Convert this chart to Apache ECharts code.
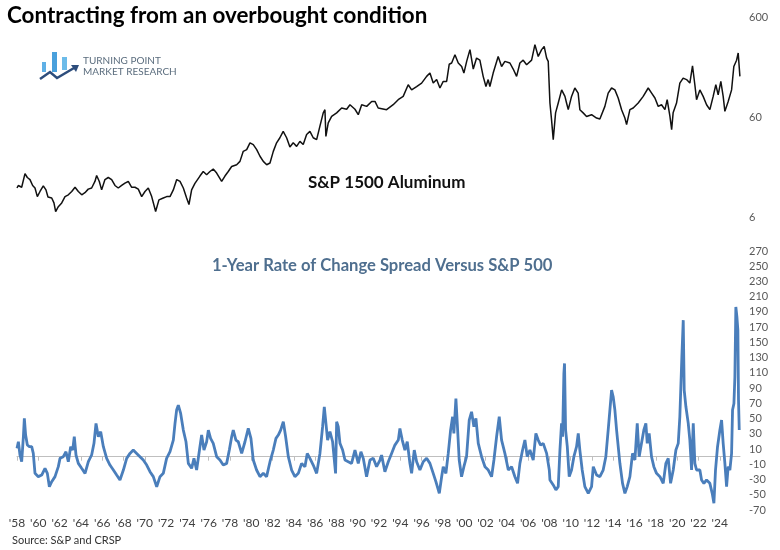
<!DOCTYPE html>
<html>
<head>
<meta charset="utf-8">
<script src="https://cdn.jsdelivr.net/npm/echarts@6/dist/echarts.min.js"></script>
<style>
  html, body { margin: 0; padding: 0; background: #fff; }
  #chart { width: 780px; height: 550px; }
</style>
</head>
<body>
<div id="chart"></div>
<script>
// S&P 1500 Aluminum index (decimal year, index level)
var topYears = [
    1958.00, 1958.12, 1958.44, 1958.75, 1958.97, 1959.22, 1959.47, 1959.69, 1959.91, 1960.16,
    1960.47, 1960.72, 1960.91, 1961.26, 1961.47, 1961.63, 1961.88, 1962.20, 1962.51, 1962.82,
    1963.14, 1963.45, 1963.76, 1964.08, 1964.38, 1964.69, 1965.01, 1965.32, 1965.48, 1965.73,
    1965.95, 1966.26, 1966.57, 1966.89, 1967.20, 1967.51, 1967.83, 1968.14, 1968.45, 1968.77,
    1969.08, 1969.39, 1969.71, 1970.02, 1970.33, 1970.65, 1971.02, 1971.33, 1971.74, 1972.06,
    1972.37, 1972.68, 1973.00, 1973.31, 1973.62, 1973.93, 1974.15, 1974.40, 1974.71,
    1975.18, 1975.49, 1975.81, 1976.12, 1976.43, 1976.75, 1977.22, 1977.53, 1977.84, 1978.16,
    1978.63, 1978.94, 1979.25, 1979.57, 1979.88, 1980.19, 1980.51, 1980.82, 1981.13, 1981.45,
    1981.76, 1982.07, 1982.38, 1982.69, 1983.00, 1983.32, 1983.63, 1983.94, 1984.26, 1984.57,
    1984.88, 1985.20, 1985.51, 1985.82, 1986.14, 1986.45, 1986.76, 1986.92, 1987.01, 1987.23,
    1987.55, 1988.02, 1988.49, 1988.96, 1989.27, 1989.74, 1990.05, 1990.37, 1990.84, 1991.31,
    1991.62, 1991.92,
    1992.08, 1992.71, 1993.33, 1993.80, 1994.27, 1994.74, 1995.06, 1995.53, 1996.00, 1996.47,
    1996.78, 1997.09, 1997.41, 1997.72, 1998.03, 1998.35, 1998.59, 1998.82, 1999.13, 1999.44,
    1999.76, 1999.97, 2000.23, 2000.54, 2000.85, 2001.16, 2001.47, 2001.78, 2002.04, 2002.25,
    2002.41, 2002.72, 2003.19, 2003.51, 2003.82, 2004.29, 2004.60, 2004.92, 2005.23, 2005.54,
    2005.86, 2006.33, 2006.64, 2006.95, 2007.27, 2007.51, 2007.74, 2007.89, 2008.05, 2008.20,
    2008.36, 2008.58, 2008.83, 2009.15, 2009.46,
    2009.61, 2009.77, 2010.08, 2010.39, 2010.70, 2010.86, 2011.17, 2011.49, 2011.96, 2012.43,
    2012.74, 2013.21, 2013.52, 2013.84, 2014.15, 2014.46, 2014.78, 2015.09, 2015.25, 2015.56,
    2015.87, 2016.34, 2016.81, 2017.28, 2017.60, 2017.91, 2018.22, 2018.53, 2018.85, 2019.06,
    2019.32, 2019.48, 2019.62, 2019.94, 2020.25, 2020.56, 2020.88, 2021.19, 2021.44, 2021.66,
    2021.82, 2022.13, 2022.44, 2022.76, 2023.07, 2023.38, 2023.63, 2023.85, 2024.10, 2024.32,
    2024.48, 2024.79, 2025.11, 2025.32, 2025.58, 2025.73, 2025.89];
var topValues = [
    11.7, 12.4, 11.9, 16.3, 14.9, 14.2, 12.4, 11.7, 9.6, 10.8,
    12.3, 11.2, 9.5, 9.3, 8.3, 6.8, 7.6, 8.3, 9.6, 10.0,
    10.8, 11.9, 10.8, 10.0, 10.5, 11.4, 11.7, 13.6, 15.6, 13.6,
    11.2, 14.2, 14.9, 14.2, 12.4, 11.7, 12.4, 13.1, 13.6, 11.9,
    11.9, 11.4, 9.6, 10.8, 11.7, 9.6, 6.8, 8.9, 9.3, 9.6,
    9.6, 11.2, 14.2, 13.6, 11.7, 9.3, 8.0, 11.2, 13.0,
    15.4, 17.1, 15.9, 17.1, 18.1, 16.5, 13.6, 15.4, 17.1, 19.2,
    20.0, 21.6, 27.2, 28.3, 33.1, 31.8, 28.3, 24.3, 21.6, 20.0,
    20.8, 27.2, 33.1, 37.2, 43.1, 37.2, 30.1, 33.1, 30.5, 34.2,
    31.8, 40.1, 43.1, 37.2, 35.6, 48.7, 66, 71, 38.4, 52.3,
    60.8, 66, 73.8, 71.7, 79.6, 71.7, 63.3, 79.6, 76.6, 85.9,
    85.9, 73.8,
    76.6, 71.0, 79.6, 89.4, 96.4, 126, 112, 121, 131, 153,
    165, 131, 142, 117, 136, 136, 202, 208, 252, 208,
    192, 165, 216, 283, 181, 233, 222, 153, 121, 142,
    121, 165, 242, 192, 216, 208, 181, 153, 208, 222,
    200, 222, 317, 242, 283, 305, 233, 216, 82.8, 56.4,
    35.6, 66, 82.8, 112, 96.4,
    82.8, 71, 96.4, 117, 104, 71, 66, 60.8, 63.3, 58.6,
    57.3, 76.6, 104, 117, 112, 92.9, 71, 58.6, 50.3, 71,
    73.8, 82.8, 96.4, 117, 104, 92.9, 76.6, 79.6, 71, 89.4,
    60.8, 44.8, 66, 82.8, 131, 147, 142, 131, 195, 126,
    89.4, 112, 96.4, 79.6, 71, 96.4, 126, 100, 136, 96.4,
    68.3, 85.9, 112, 192, 222, 262, 153];

// 1-year rate of change spread versus S&P 500 (%)
var rocYears = [
    1958.00, 1958.13, 1958.28, 1958.44, 1958.60, 1958.69, 1958.81, 1958.97, 1959.16, 1959.38,
    1959.53, 1959.69, 1960.00, 1960.32, 1960.63, 1960.85, 1961.04, 1961.26, 1961.57, 1961.88,
    1962.04, 1962.35, 1962.60, 1962.82, 1963.04, 1963.23, 1963.38, 1963.54, 1963.76, 1964.07,
    1964.39, 1964.70, 1965.01, 1965.23, 1965.42, 1965.64, 1965.86, 1966.11, 1966.42, 1966.73,
    1967.05, 1967.36, 1967.67, 1967.99, 1968.30, 1968.61, 1968.92, 1969.24, 1969.55, 1969.86,
    1970.18, 1970.49, 1970.80, 1971.12, 1971.43, 1971.74, 1972.05, 1972.37, 1972.68, 1972.84,
    1972.99, 1973.15, 1973.37, 1973.62, 1973.87, 1974.09, 1974.40, 1974.62, 1974.87,
    1975.18, 1975.34, 1975.56, 1975.81, 1975.97, 1976.18, 1976.43, 1976.75, 1977.06, 1977.37,
    1977.69, 1977.94, 1978.16, 1978.31, 1978.56, 1978.78, 1979.10, 1979.41, 1979.72, 1979.97,
    1980.19, 1980.50, 1980.82, 1981.13, 1981.44, 1981.76, 1982.07, 1982.32, 1982.54, 1982.76,
    1983.01, 1983.23, 1983.48, 1983.79, 1984.10, 1984.42, 1984.73, 1985.04, 1985.26, 1985.51,
    1985.82, 1986.14, 1986.45, 1986.70, 1986.86, 1987.01, 1987.17, 1987.39, 1987.64, 1987.92,
    1988.02, 1988.17, 1988.33, 1988.58, 1988.80, 1989.11, 1989.42, 1989.74, 1990.05, 1990.30,
    1990.52, 1990.83, 1991.15,
    1991.46, 1991.77, 1992.09, 1992.24, 1992.55, 1992.87, 1993.18, 1993.49, 1993.81, 1993.96,
    1994.18, 1994.43, 1994.65, 1994.90, 1995.06, 1995.31, 1995.53, 1995.84, 1996.15, 1996.47,
    1996.78, 1997.09, 1997.34, 1997.66, 1997.88, 1998.03, 1998.28, 1998.50, 1998.72, 1998.91,
    1999.03, 1999.22, 1999.35, 1999.53, 1999.75, 1999.97, 2000.22, 2000.47, 2000.69, 2000.91,
    2001.10, 2001.32, 2001.63, 2001.95, 2002.26, 2002.57, 2002.79, 2003.04, 2003.29, 2003.51,
    2003.82, 2004.14, 2004.45, 2004.76, 2005.01, 2005.23, 2005.48, 2005.70, 2005.92, 2006.17,
    2006.48, 2006.73, 2006.95, 2007.17, 2007.42, 2007.74, 2007.99,
    2008.05, 2008.36, 2008.61, 2008.83, 2008.99, 2009.14, 2009.24, 2009.36, 2009.42, 2009.52,
    2009.68, 2009.86, 2010.08, 2010.30, 2010.55, 2010.71, 2010.86, 2011.08, 2011.33, 2011.65,
    2011.96, 2012.12, 2012.43, 2012.74, 2013.05, 2013.30, 2013.52, 2013.68, 2013.84, 2013.99,
    2014.15, 2014.31, 2014.62, 2014.87, 2015.09, 2015.31, 2015.56, 2015.81, 2016.03, 2016.25,
    2016.43, 2016.65, 2016.87, 2017.06, 2017.19, 2017.37, 2017.59, 2017.81, 2018.06, 2018.38,
    2018.69, 2018.94, 2019.16, 2019.38, 2019.63, 2019.88, 2020.10, 2020.25, 2020.44, 2020.57,
    2020.66, 2020.82, 2021.04, 2021.19, 2021.35, 2021.51, 2021.66, 2021.82, 2022.13, 2022.29,
    2022.51, 2022.76, 2023.07, 2023.29, 2023.45, 2023.60, 2023.79, 2024.01, 2024.17, 2024.32,
    2024.48, 2024.64, 2024.79, 2024.95, 2025.11, 2025.20, 2025.33, 2025.42, 2025.51, 2025.61,
    2025.70, 2025.76, 2025.83];
var rocValues = [
    10.9, 19.6, 2.2, -6.6, 26.2, 50.2, 28.4, 15.3, 13.1, 13.1,
    4.3, -21.9, -26.2, -24.1, -15.3, -21.9, -39.4, -32.8, -26.2, -13.1,
    -2.2, 0, 6.5, -6.6, 13.1, 8.7, 26.2, 2.2, -8.8, -15.3,
    -21.9, -6.6, 2.2, 17.5, 43.7, 26.2, 32.8, 13.1, -2.2, -11,
    -17.5, -24.1, -30.6, -17.5, -2.2, 4.3, 8.7, 4.3, 0, -4.4,
    -11, -19.7, -26.2, -39.4, -26.2, -21.9, -2.2, 6.5, 21.8, 43.7,
    61.2, 67.7, 56.8, 34.9, 19.6, -8.8, -15.3, -2.2, -17.5,
    13.1, 28.4, 8.7, 19.6, 34.9, 24, 17.5, 0, -4.4, -11,
    -8.8, 8.7, 26.2, 34.9, 21.8, 19.6, 4.3, 19.6, 37.1, 24,
    -4.4, -17.5, -26.2, -21.9, -26.2, -6.6, 8.7, 24, 28.4, 34.9,
    45.9, 26.2, 0, -17.5, -26.2, -21.9, -8.8, -13.1, 4.3, -2.2,
    -11, -21.9, 4.3, 39.3, 65.5, 63.3, 21.8, 32.8, 19.6, -21.9,
    45.9, 39.3, 17.5, 8.7, -4.4, -6.6, -8.8, 8.7, -8.8, 6.5,
    -2.2, -26.2, -4.4,
    -2.2, -13.2, -4.4, 2.1, -19.7, -6.6, 4.3, 15.2, 21.8, 37.1,
    21.8, 8.7, 19.6, -8.8, -21.9, 8.7, -6.6, -17.5, -6.6, -2.2,
    -8.8, -21.9, -32.8, -48.1, -26.3, -13.2, -21.9, 4.3, 34.9, 52.4,
    30.5, 76.4, 43.6, -4.4, -26.3, -13.2, 0, 48, 58.9, 39.3,
    50.2, 17.4, 0, -13.2, -17.5, -26.3, -4.4, 26.2, 52.4, 21.8,
    4.3, -17.5, -13.2, -26.3, -35, -8.8, 8.7, 21.8, 0, 8.7,
    -4.4, 30.5, 21.8, 15.2, 17.4, 4.3, -17.5,
    -30.6, -37.1, -43.7, -39.3, 8.7, 43.7, 26.2, 109.2, 122.4, 35,
    13.1, -26.2, -17.5, 0, 13.1, 30.6, 8.7, -17.5, -39.3, -48.1,
    -39.3, -13.1, -24, -26.2, -17.5, 0, 35, 61.2, 87.4, 78.7,
    61.2, 35, -8.7, -35, -48.1, -39.3, -26.2, 4.4, -4.4, 43.7,
    0, 17.5, 35, 43.7, 17.5, 30.6, 0, -13.1, -21.9, -26.2,
    -35, -8.7, -2.2, -35, -17.5, 8.7, 17.5, 52.4, 131.1, 179.2,
    87.4, 65.5, 43.7, 21.8, -17.5, 43.7, -8.7, -17.5, -17.5, -30.6,
    -35, -30.6, -35, -48.1, -61.2, -17.5, 13.1, 35, 48.1, 17.5,
    -8.7, -39.3, -13.1, -17.5, 4.4, 61.2, 69.9, 104.9, 196.6, 183.5,
    166.1, 74.3, 35];

var xSpan = [1958, 2025.9]; // axis range; labels every two years

var topData = topYears.map(function (y, i) {
    // log axis runs 1..100, shown as 6..600
    return [y, topValues[i] / 6];
});
var rocData = rocYears.map(function (y, i) {
    return [y, rocValues[i]];
});

var chart = echarts.init(document.getElementById('chart'));

var labelFont = 'Lato, "Open Sans", sans-serif';

var option = {
    backgroundColor: '#ffffff',
    animation: false,
    title: [
        {
            text: 'Contracting from an overbought condition',
            left: 7, top: 5, padding: 0,
            textStyle: { fontFamily: labelFont, fontWeight: 'bold', fontSize: 22.4, color: '#000' }
        },
        {
            text: 'S&P 1500 Aluminum',
            left: 308, top: 174, padding: 0,
            textStyle: { fontFamily: labelFont, fontWeight: 'bold', fontSize: 17, color: '#111' }
        },
        {
            text: '1-Year Rate of Change Spread Versus S&P 500',
            left: 212, top: 257, padding: 0,
            textStyle: { fontFamily: labelFont, fontWeight: 'bold', fontSize: 16.6, color: '#4f6f8f' }
        },
        {
            text: 'Source: S&P and CRSP',
            left: 12, top: 535, padding: 0,
            textStyle: { fontFamily: labelFont, fontWeight: 'normal', fontSize: 11, color: '#333' }
        }
    ],
    graphic: [
        // logo bars
        { type: 'rect', shape: { x: 42, y: 62, width: 4, height: 10 }, style: { fill: '#5fb0e6' } },
        { type: 'rect', shape: { x: 52, y: 52, width: 5, height: 20 }, style: { fill: '#49a0dc' } },
        { type: 'rect', shape: { x: 62, y: 57, width: 5, height: 13 }, style: { fill: '#6cbbe9' } },
        {
            type: 'polyline',
            shape: { points: [[40, 79], [50, 72], [57, 78], [74, 68]] },
            style: { stroke: '#2d4d7c', lineWidth: 2.5, fill: null }
        },
        {
            type: 'polygon',
            shape: { points: [[79, 65], [71, 65], [76, 72]] },
            style: { fill: '#2d4d7c' }
        },
        {
            type: 'text', left: 83, top: 56,
            style: { text: 'TURNING POINT', font: '10px Lato, sans-serif', fill: '#5b6d7e' }
        },
        {
            type: 'text', left: 83, top: 67,
            style: { text: 'MARKET RESEARCH', font: '10px Lato, sans-serif', fill: '#5b6d7e' }
        }
    ],
    grid: [
        { left: 17, right: 40, top: 17, height: 200 },
        { left: 17, right: 40, top: 251, height: 259 }
    ],
    xAxis: [
        {
            gridIndex: 0, type: 'value',
            min: xSpan[0], max: xSpan[1], interval: 2,
            show: false
        },
        {
            gridIndex: 1, type: 'value',
            min: xSpan[0], max: xSpan[1], interval: 2,
            splitLine: { show: false },
            axisLine: { show: true, lineStyle: { color: '#bfbfbf', width: 1 } },
            axisTick: { show: true, length: 4, lineStyle: { color: '#bfbfbf' } },
            axisLabel: {
                margin: 7,
                fontFamily: labelFont, fontSize: 12, color: '#404040',
                showMaxLabel: false,
                formatter: function (v) {
                    if (Math.abs(v - Math.round(v)) > 0.01 || Math.round(v) % 2 !== 0) return '';
                    return "'" + String(Math.round(v)).slice(2);
                }
            }
        }
    ],
    yAxis: [
        {
            gridIndex: 0, type: 'log', logBase: 10,
            min: 1, max: 100, position: 'right',
            axisLine: { show: false }, axisTick: { show: false },
            splitLine: { show: false },
            minorTick: { show: false },
            axisLabel: {
                margin: 9,
                fontFamily: labelFont, fontSize: 11, color: '#595959',
                formatter: function (v) { return String(Math.round(v * 6)); }
            }
        },
        {
            gridIndex: 1, type: 'value',
            min: -70, max: 270, interval: 20, position: 'right',
            axisLine: { show: false }, axisTick: { show: false },
            splitLine: { show: false },
            axisLabel: {
                margin: 9,
                fontFamily: labelFont, fontSize: 11, color: '#595959'
            }
        }
    ],
    series: [
        {
            name: 'S&P 1500 Aluminum',
            type: 'line', xAxisIndex: 0, yAxisIndex: 0,
            data: topData,
            showSymbol: false,
            lineStyle: { color: '#111111', width: 1.5 }
        },
        {
            name: '1-Year ROC Spread',
            type: 'line', xAxisIndex: 1, yAxisIndex: 1,
            data: rocData,
            showSymbol: false,
            lineStyle: { color: '#4a7ebb', width: 2.8 }
        }
    ]
};

chart.setOption(option);
</script>
</body>
</html>
